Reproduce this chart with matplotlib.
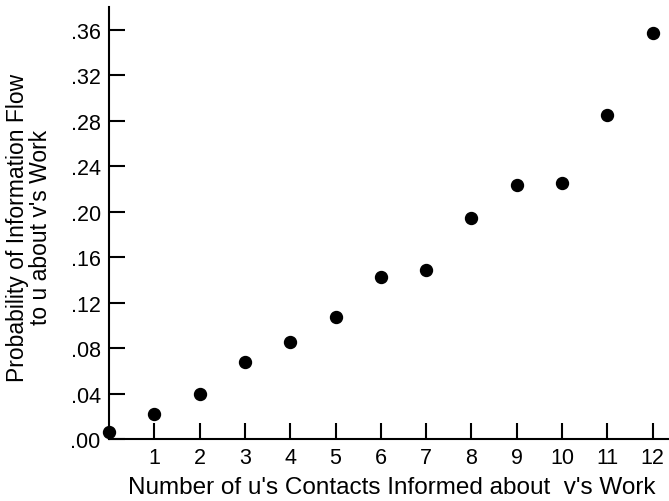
import matplotlib
matplotlib.use("Agg")
import matplotlib.pyplot as plt

# number of u's contacts informed vs probability of information flow
contacts = [0, 1, 2, 3, 4, 5, 6, 7, 8, 9, 10, 11, 12]
prob_flow = [0.006, 0.022, 0.040, 0.068, 0.085, 0.107, 0.142, 0.149,
             0.194, 0.223, 0.225, 0.285, 0.357]

y_ticks = [0.00, 0.04, 0.08, 0.12, 0.16, 0.20, 0.24, 0.28, 0.32, 0.36]
y_tick_labels = [".00", ".04", ".08", ".12", ".16", ".20", ".24", ".28", ".32", ".36"]
x_ticks = [1, 2, 3, 4, 5, 6, 7, 8, 9, 10, 11, 12]

plt.rcParams["font.family"] = ["Liberation Sans", "DejaVu Sans"]

fig = plt.figure(figsize=(6.69, 5.02), dpi=100)
ax = fig.add_axes([0.163, 0.1235, 0.837, 0.861])

ax.plot(contacts, prob_flow, "o", color="black", markersize=8.6, clip_on=False)

ax.set_xlim(0, 12.36)
ax.set_ylim(0, 0.38)
ax.set_xticks(x_ticks)
ax.set_xticklabels([str(v) for v in x_ticks])
ax.set_yticks(y_ticks)
ax.set_yticklabels(y_tick_labels)

ax.spines["top"].set_visible(False)
ax.spines["right"].set_visible(False)
ax.spines["left"].set_linewidth(1.5)
ax.spines["bottom"].set_linewidth(1.5)
ax.tick_params(direction="in", length=11.5, width=1.5, labelsize=15.5, colors="black")
ax.tick_params(axis="x", pad=6)
ax.tick_params(axis="y", pad=6)

fig.text(0.586, 0.028, "Number of u's Contacts Informed about  v's Work",
         ha="center", va="center", fontsize=17.5)
fig.text(0.043, 0.546, "Probability of Information Flow\nto u about v's Work",
         ha="center", va="center", rotation=90, fontsize=16.5, linespacing=1.0)

fig.savefig("out.png", dpi=100)
